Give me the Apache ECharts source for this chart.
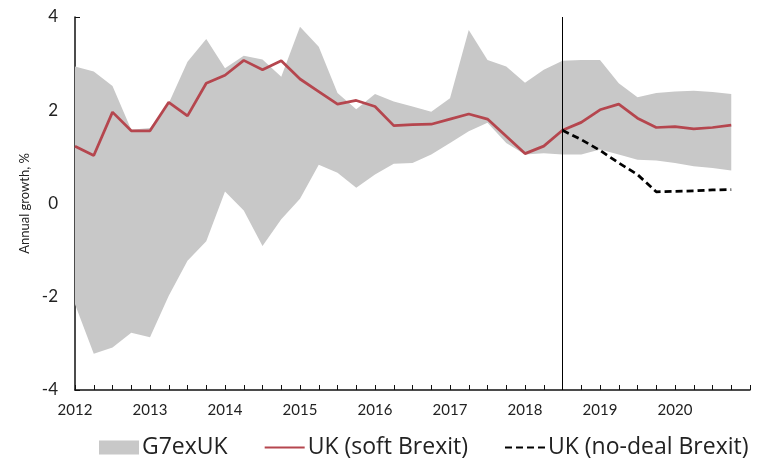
<!DOCTYPE html>
<html>
<head>
<meta charset="utf-8">
<script src="https://cdn.jsdelivr.net/npm/echarts@6/dist/echarts.min.js"></script>
<style>
  html, body { margin: 0; padding: 0; background: #fff; }
  #chart { width: 769px; height: 461px; }
</style>
</head>
<body>
<div id="chart"></div>
<script>
// quarters 2012Q1 .. 2021Q1 (last one only closes the axis)
const quarters = [
  '2012Q1', '2012Q2', '2012Q3', '2012Q4', '2013Q1', '2013Q2', '2013Q3', '2013Q4',
  '2014Q1', '2014Q2', '2014Q3', '2014Q4', '2015Q1', '2015Q2', '2015Q3', '2015Q4',
  '2016Q1', '2016Q2', '2016Q3', '2016Q4', '2017Q1', '2017Q2', '2017Q3', '2017Q4',
  '2018Q1', '2018Q2', '2018Q3', '2018Q4', '2019Q1', '2019Q2', '2019Q3', '2019Q4',
  '2020Q1', '2020Q2', '2020Q3', '2020Q4', '2021Q1',
];
const yearLabels = ['2012', '2013', '2014', '2015', '2016', '2017', '2018', '2019', '2020'];

// G7 ex UK range
const g7Upper = [
  2.94, 2.83, 2.52, 1.58, 1.62, 2.15, 3.04, 3.53, 2.90, 3.17, 3.09, 2.72,
  3.79, 3.36, 2.37, 2.02, 2.35, 2.19, 2.08, 1.97, 2.26, 3.72, 3.08, 2.94,
  2.59, 2.87, 3.06, 3.08, 3.08, 2.58, 2.28, 2.37, 2.40, 2.42, 2.39, 2.35,
];
const g7Lower = [
  -2.16, -3.22, -3.09, -2.77, -2.87, -1.98, -1.23, -0.81, 0.26, -0.15, -0.91, -0.34,
  0.10, 0.83, 0.66, 0.34, 0.62, 0.85, 0.87, 1.05, 1.30, 1.55, 1.73, 1.30,
  1.05, 1.08, 1.05, 1.05, 1.16, 1.05, 0.94, 0.92, 0.87, 0.80, 0.76, 0.71,
];

const ukSoft = [
  1.23, 1.03, 1.96, 1.56, 1.56, 2.17, 1.88, 2.58, 2.75, 3.07, 2.87, 3.06,
  2.67, 2.40, 2.13, 2.21, 2.08, 1.67, 1.69, 1.70, 1.81, 1.92, 1.81, 1.44,
  1.07, 1.23, 1.57, 1.74, 2.01, 2.13, 1.83, 1.63, 1.65, 1.60, 1.63, 1.68,
];
const ukNoDeal = [
  null, null, null, null, null, null, null, null, null, null, null, null,
  null, null, null, null, null, null, null, null, null, null, null, null,
  null, null, 1.57, 1.37, 1.14, 0.87, 0.62, 0.25, 0.26, 0.27, 0.29, 0.30,
];

const g7Width = g7Upper.map((v, i) => +(v - g7Lower[i]).toFixed(2));

const chart = echarts.init(document.getElementById('chart'), null, { renderer: 'canvas' });

chart.setOption({
  animation: false,
  backgroundColor: '#fff',
  grid: { left: 75, right: 19, top: 17, bottom: 71, outerBoundsMode: 'none' },
  legend: {
    left: 99,
    top: 436,
    padding: 0,
    itemWidth: 40,
    itemHeight: 14,
    itemGap: 36,
    textStyle: { fontFamily: 'Open Sans', fontSize: 23, color: '#222', padding: [0, 0, 0, -2] },
    data: [
      { name: 'G7exUK', icon: 'rect', itemStyle: { color: '#c8c8c8' } },
      { name: 'UK (soft Brexit)', itemStyle: { opacity: 0 } },
      { name: 'UK (no-deal Brexit)', itemStyle: { opacity: 0 } },
    ],
  },
  xAxis: {
    type: 'category',
    data: quarters,
    boundaryGap: false,
    axisLine: { onZero: false, lineStyle: { color: '#111', width: 1.5 } },
    axisTick: { inside: true, length: 5, interval: 0, lineStyle: { color: '#111' } },
    axisLabel: {
      interval: (idx) => idx % 4 === 0 && idx / 4 < yearLabels.length,
      formatter: (val, idx) => yearLabels[idx / 4] || '',
      margin: 13,
      fontFamily: 'Lato',
      fontSize: 15,
      color: '#222',
    },
    splitLine: { show: false },
  },
  yAxis: {
    type: 'value',
    min: -4,
    max: 4,
    interval: 2,
    name: 'Annual growth, %',
    nameLocation: 'middle',
    nameGap: 42,
    nameTextStyle: { fontFamily: 'Lato', fontSize: 13, color: '#222' },
    axisLine: { show: true, lineStyle: { color: '#111', width: 1.5 } },
    axisTick: { show: true, inside: true, length: 5, lineStyle: { color: '#111' } },
    axisLabel: { margin: 17, fontFamily: 'Lato', fontSize: 17, color: '#222' },
    splitLine: { show: false },
  },
  series: [
    {
      name: 'g7base',
      type: 'line',
      stack: 'g7',
      stackStrategy: 'all',
      data: g7Lower,
      symbol: 'none',
      lineStyle: { opacity: 0 },
      silent: true,
    },
    {
      name: 'G7exUK',
      type: 'line',
      stack: 'g7',
      stackStrategy: 'all',
      data: g7Width,
      symbol: 'none',
      lineStyle: { opacity: 0 },
      itemStyle: { color: '#c8c8c8' },
      areaStyle: { color: '#c8c8c8', opacity: 1 },
      silent: true,
    },
    {
      name: 'UK (soft Brexit)',
      type: 'line',
      data: ukSoft,
      symbol: 'none',
      itemStyle: { color: '#b5464e' },
      lineStyle: { color: '#b5464e', width: 2.75 },
      markLine: {
        silent: true,
        symbol: 'none',
        label: { show: false },
        lineStyle: { color: '#000', width: 1, type: 'solid' },
        data: [{ xAxis: '2018Q3' }],
      },
    },
    {
      name: 'UK (no-deal Brexit)',
      type: 'line',
      data: ukNoDeal,
      symbol: 'none',
      itemStyle: { color: '#000' },
      lineStyle: { color: '#000', width: 2.75, type: [7, 4] },
    },
  ],
});
</script>
</body>
</html>
